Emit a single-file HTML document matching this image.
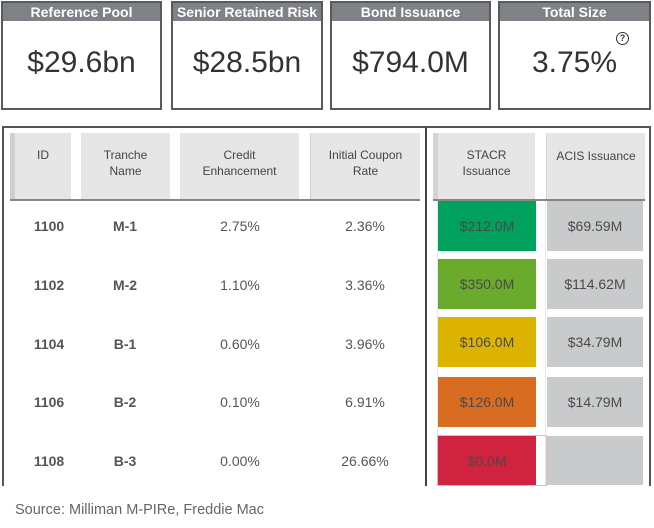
<!DOCTYPE html>
<html><head><meta charset="utf-8"><style>
*{margin:0;padding:0;box-sizing:border-box}
body{width:654px;height:528px;background:#fff;position:relative;overflow:hidden;font-family:"Liberation Sans",Arial,sans-serif}
.a{position:absolute}
.box{position:absolute;top:1px;height:109px;border:2px solid #5a5a5a;background:#fff}
.box .h{position:absolute;left:0;right:0;top:0;height:18px;background:#7e8186;color:#fff;font-weight:bold;font-size:14px;line-height:18px;text-align:center;white-space:nowrap;overflow:hidden}
.box .v{position:absolute;left:0;right:0;top:43px;font-size:30px;line-height:34px;color:#333;text-align:center}
.hc{position:absolute;top:133px;height:67px;background:#e6e6e6}
.ht{position:absolute;color:#444;font-size:12px;line-height:16px;text-align:center;white-space:nowrap}
.t{position:absolute;font-size:14px;line-height:16px;text-align:center;color:#555}
.b{font-weight:bold}
.c{position:absolute;font-size:14px;line-height:16px;text-align:center;color:#4a4a4a;display:flex;align-items:center;justify-content:center}
</style></head><body>

<div class="box" style="left:1px;width:161px"><div class="h">Reference Pool</div><div class="v">$29.6bn</div></div>
<div class="box" style="left:171px;width:152px"><div class="h">Senior Retained Risk</div><div class="v">$28.5bn</div></div>
<div class="box" style="left:330px;width:161px"><div class="h">Bond Issuance</div><div class="v">$794.0M</div></div>
<div class="box" style="left:498px;width:153px"><div class="h">Total Size</div><div class="v">3.75%</div>
<div class="a" style="left:116px;top:29px;width:13px;height:13px;border:1.5px solid #333;border-radius:50%;font-size:9px;line-height:10px;font-weight:bold;text-align:center;color:#333">?</div></div>

<!-- table outer -->
<div class="a" style="left:2px;top:126px;width:649px;height:360px;border-left:2px solid #555;border-top:2px solid #555;border-right:2px solid #555"></div>
<div class="a" style="left:425px;top:127px;width:2px;height:359px;background:#444"></div>

<!-- header cells -->
<div class="hc" style="left:10px;width:61px;border-left:5px solid #cfcfcf"></div>
<div class="hc" style="left:81px;width:89px"></div>
<div class="hc" style="left:180px;width:119px"></div>
<div class="hc" style="left:310px;width:110px;border-left:1px solid #d0d0d0"></div>
<div class="hc" style="left:433px;width:102px;border-left:5px solid #d4d4d4"></div>
<div class="hc" style="left:546px;width:99px;border-left:1px solid #d4d4d4"></div>

<div class="ht" style="left:15px;width:56px;top:147px">ID</div>
<div class="ht" style="left:81px;width:89px;top:147px">Tranche<br>Name</div>
<div class="ht" style="left:180px;width:119px;top:147px">Credit<br>Enhancement</div>
<div class="ht" style="left:311px;width:109px;top:147px">Initial Coupon<br>Rate</div>
<div class="ht" style="left:438px;width:97px;top:147px">STACR<br>Issuance</div>
<div class="ht" style="left:547px;width:98px;top:148px">ACIS Issuance</div>

<div class="a" style="left:10px;top:199px;width:410px;height:2px;background:#858585"></div>
<div class="a" style="left:433px;top:199px;width:212px;height:2px;background:#858585"></div>

<!-- left data -->
<div class="t b" style="left:19px;width:60px;top:218px">1100</div>
<div class="t b" style="left:95px;width:60px;top:218px">M-1</div>
<div class="t" style="left:200px;width:80px;top:218px">2.75%</div>
<div class="t" style="left:325px;width:80px;top:218px">2.36%</div>

<div class="t b" style="left:19px;width:60px;top:277px">1102</div>
<div class="t b" style="left:95px;width:60px;top:277px">M-2</div>
<div class="t" style="left:200px;width:80px;top:277px">1.10%</div>
<div class="t" style="left:325px;width:80px;top:277px">3.36%</div>

<div class="t b" style="left:19px;width:60px;top:336px">1104</div>
<div class="t b" style="left:95px;width:60px;top:336px">B-1</div>
<div class="t" style="left:200px;width:80px;top:336px">0.60%</div>
<div class="t" style="left:325px;width:80px;top:336px">3.96%</div>

<div class="t b" style="left:19px;width:60px;top:394px">1106</div>
<div class="t b" style="left:95px;width:60px;top:394px">B-2</div>
<div class="t" style="left:200px;width:80px;top:394px">0.10%</div>
<div class="t" style="left:325px;width:80px;top:394px">6.91%</div>

<div class="t b" style="left:19px;width:60px;top:453px">1108</div>
<div class="t b" style="left:95px;width:60px;top:453px">B-3</div>
<div class="t" style="left:200px;width:80px;top:453px">0.00%</div>
<div class="t" style="left:325px;width:80px;top:453px">26.66%</div>

<!-- faint cell guides -->
<div class="a" style="left:437px;top:201px;width:1px;height:284px;background:#dfeee4"></div>
<div class="a" style="left:545px;top:201px;width:1px;height:284px;background:#e4efe6"></div>

<!-- right data -->
<div class="c" style="left:438px;top:201px;width:98px;height:50px;background:#00a15c">$212.0M</div>
<div class="c" style="left:547px;top:201px;width:96px;height:50px;background:#c8cacb">$69.59M</div>

<div class="c" style="left:438px;top:259px;width:98px;height:50px;background:#6aaa2d">$350.0M</div>
<div class="c" style="left:547px;top:259px;width:96px;height:50px;background:#c8cacb">$114.62M</div>

<div class="c" style="left:438px;top:317px;width:98px;height:50px;background:#dcb300">$106.0M</div>
<div class="c" style="left:547px;top:317px;width:96px;height:50px;background:#c8cacb">$34.79M</div>

<div class="c" style="left:438px;top:377px;width:98px;height:50px;background:#d86c20">$126.0M</div>
<div class="c" style="left:547px;top:377px;width:96px;height:50px;background:#c8cacb">$14.79M</div>

<div class="a" style="left:437px;top:435px;width:110px;height:51px;border:1px solid #efb3bf"></div>
<div class="c" style="left:438px;top:436px;width:98px;height:49px;background:#d0233f">$0.0M</div>
<div class="c" style="left:547px;top:436px;width:96px;height:49px;background:#c8cacb"></div>

<div class="a" style="left:15px;top:502px;font-size:14.5px;line-height:17px;color:#666;white-space:nowrap">Source: Milliman M-PIRe, Freddie Mac</div>
</body></html>
